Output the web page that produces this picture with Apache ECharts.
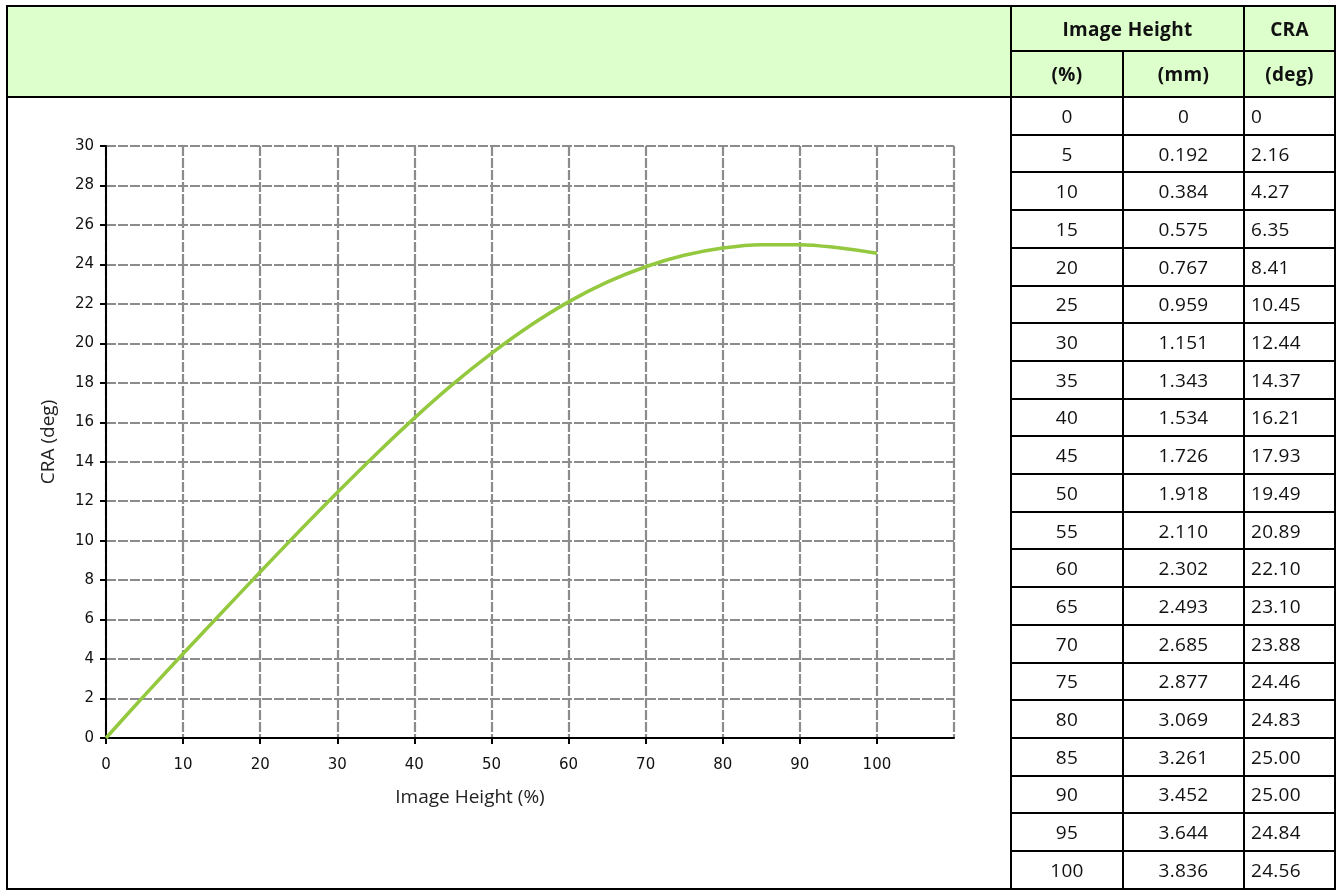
<!DOCTYPE html>
<html>
<head>
<meta charset="utf-8">
<script src="https://cdn.jsdelivr.net/npm/echarts@6/dist/echarts.min.js"></script>
<style>
  html, body { margin: 0; padding: 0; background: #fff; }
  #page { position: relative; width: 1337px; height: 890px; overflow: hidden; }
  #chart { position: absolute; left: 0; top: 0; width: 1337px; height: 890px; }
  .bg { position: absolute; background: #ddffcc; }
  .ln { position: absolute; background: #000; }
  .cell {
    position: absolute; display: flex; align-items: center; justify-content: center;
    font-family: "Open Sans", sans-serif; font-size: 19px; color: #111; letter-spacing: 0.3px;
  }
  .cell.left { justify-content: flex-start; padding-left: 6px; box-sizing: border-box; }
  .cell.head { font-weight: bold; }
</style>
</head>
<body>
<div id="page">
  <div id="chart"></div>
</div>
<script>
// table / curve data
var imageHeightPct = [0, 5, 10, 15, 20, 25, 30, 35, 40, 45, 50, 55, 60, 65, 70, 75, 80, 85, 90, 95, 100];
var imageHeightMm = [0, 0.192, 0.384, 0.575, 0.767, 0.959, 1.151, 1.343, 1.534, 1.726, 1.918,
  2.110, 2.302, 2.493, 2.685, 2.877, 3.069, 3.261, 3.452, 3.644, 3.836];
var craDeg = [0, 2.16, 4.27, 6.35, 8.41, 10.45, 12.44, 14.37, 16.21, 17.93, 19.49,
  20.89, 22.10, 23.10, 23.88, 24.46, 24.83, 25.00, 25.00, 24.84, 24.56];

var headTop = ['Image Height', 'CRA'];
var headSub = ['(%)', '(mm)', '(deg)'];

// layout of the frame (pixels)
var page = document.getElementById('page');
var X = [6, 1010, 1122, 1243, 1334];   // left edges of vertical rules
var topY = 5, midY = 50, headY = 96, rowH = 37.7, lw = 2;
var bottomY = headY + rowH * imageHeightPct.length;

function box(cls, l, t, w, h, txt) {
  var d = document.createElement('div');
  d.className = cls;
  d.style.left = l + 'px'; d.style.top = t + 'px';
  d.style.width = w + 'px'; d.style.height = h + 'px';
  if (txt !== undefined) d.textContent = txt;
  page.appendChild(d);
  return d;
}

// green header band
box('bg', X[0], topY, X[4] - X[0], headY - topY);

// header text
box('cell head', X[1] + lw, topY + lw, X[3] - X[1] - lw, midY - topY - lw, headTop[0]);
box('cell head', X[3] + lw, topY + lw, X[4] - X[3] - lw, midY - topY - lw, headTop[1]);
for (var c = 0; c < 3; c++) {
  box('cell head', X[c + 1] + lw, midY + lw, X[c + 2] - X[c + 1] - lw, headY - midY - lw, headSub[c]);
}

// body rows
function fmt(v, n) { return v === 0 ? '0' : v.toFixed(n); }
for (var i = 0; i < imageHeightPct.length; i++) {
  var t = headY + lw + i * rowH;
  var h = rowH - lw;
  box('cell', X[1] + lw, t, X[2] - X[1] - lw, h, String(imageHeightPct[i]));
  box('cell', X[2] + lw, t, X[3] - X[2] - lw, h, fmt(imageHeightMm[i], 3));
  box('cell left', X[3] + lw, t, X[4] - X[3] - lw, h, fmt(craDeg[i], 2));
  if (i > 0) box('ln', X[1], headY + i * rowH, X[4] - X[1], lw);
}

// rules
box('ln', X[0], topY, X[4] - X[0] + lw, lw);
box('ln', X[0], headY, X[4] - X[0] + lw, lw);
box('ln', X[1], midY, X[4] - X[1], lw);
box('ln', X[0], bottomY, X[4] - X[0] + lw, lw);
box('ln', X[0], topY, lw, bottomY - topY + lw);
box('ln', X[1], topY, lw, bottomY - topY + lw);
box('ln', X[2], midY, lw, bottomY - midY + lw);
box('ln', X[3], topY, lw, bottomY - topY + lw);
box('ln', X[4], topY, lw, bottomY - topY + lw);

// chart
var myChart = echarts.init(document.getElementById('chart'));
var gridLine = { show: true, lineStyle: { color: '#8c8c8c', width: 2.2, type: [10, 2] } };
var tickFont = { fontFamily: 'DejaVu Sans', fontSize: 15, color: '#111' };
var nameFont = { fontFamily: 'Open Sans', fontSize: 19, color: '#222' };

var option = {
  animation: false,
  grid: { left: 106, top: 146, width: 848, height: 592, containLabel: false },
  xAxis: {
    type: 'value',
    min: 0, max: 110, interval: 10,
    name: 'Image Height (%)',
    nameLocation: 'middle',
    nameGap: 50,
    nameTextStyle: Object.assign({ padding: [0, 120, 0, 0] }, nameFont),
    axisLine: { lineStyle: { color: '#000', width: 2 } },
    axisTick: { show: true, length: 6, lineStyle: { color: '#000', width: 2 } },
    axisLabel: Object.assign({ margin: 20, showMaxLabel: false }, tickFont),
    splitLine: gridLine
  },
  yAxis: {
    type: 'value',
    min: 0, max: 30, interval: 2,
    name: 'CRA (deg)',
    nameLocation: 'middle',
    nameGap: 48,
    nameTextStyle: nameFont,
    axisLine: { show: true, lineStyle: { color: '#000', width: 2 } },
    axisTick: { show: true, length: 6, lineStyle: { color: '#000', width: 2 } },
    axisLabel: Object.assign({ margin: 12 }, tickFont),
    splitLine: gridLine
  },
  series: [
    {
      type: 'line',
      smooth: 0.35,
      symbol: 'none',
      lineStyle: { color: '#93c83f', width: 3.5 },
      data: imageHeightPct.map(function (p, i) { return [p, craDeg[i]]; })
    }
  ]
};
myChart.setOption(option);
</script>
</body>
</html>
